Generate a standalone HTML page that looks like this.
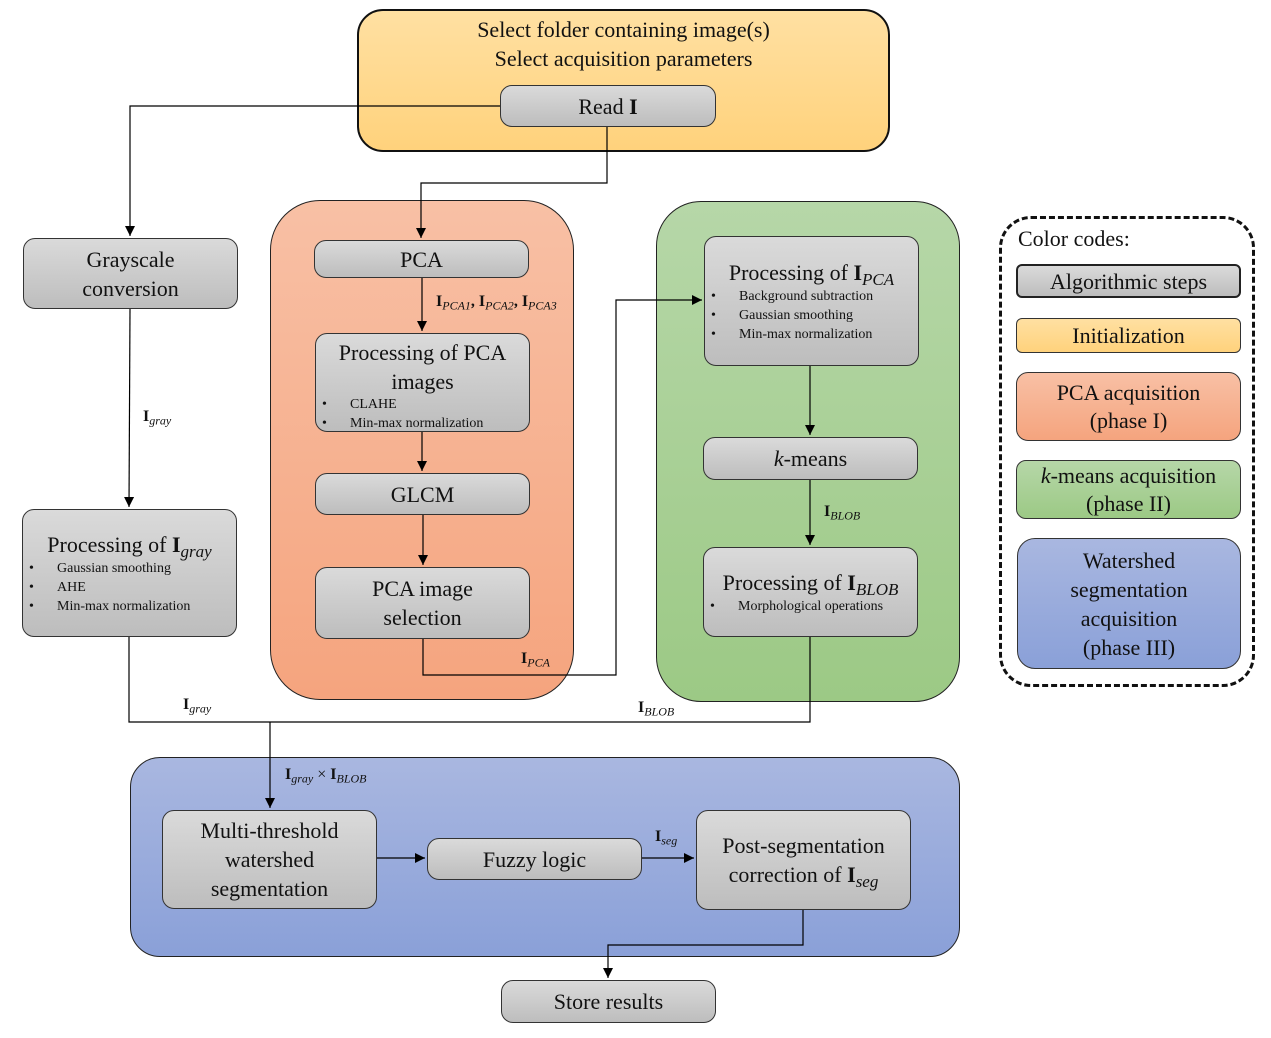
<!DOCTYPE html>
<html><head><meta charset="utf-8"><style>
body{margin:0;width:1271px;height:1038px;background:#fff;position:relative;overflow:hidden;font-family:"Liberation Serif","DejaVu Serif",serif;color:#111}
.b{position:absolute;box-sizing:border-box;border:1px solid #333;border-radius:12px;background:linear-gradient(#dadada,#bdbdbd);text-align:center;font-size:22px;line-height:29px;display:flex;flex-direction:column;justify-content:center}
.b sub,.l sub{font-style:italic;font-weight:normal;vertical-align:-0.3em;line-height:0}
.b sub{font-size:17px}
.c{position:absolute;box-sizing:border-box;border:1px solid #222}
ul{margin:0;padding:0;list-style:none;text-align:left;font-size:14px;line-height:19px}
li{position:relative;padding-left:34px}
li:before{content:"•";position:absolute;left:6px}
.l{position:absolute;font-size:16px;font-weight:bold;white-space:nowrap}
.l sub{font-size:12px}
svg{position:absolute;left:0;top:0}
</style></head><body>
<div class="c" style="left:357px;top:9px;width:533px;height:143px;border-radius:26px;border:2px solid #111;background:linear-gradient(#ffe0a2,#ffd27c)"></div>
<div style="position:absolute;left:357px;top:15px;width:533px;text-align:center;font-size:22px;line-height:29px">Select folder containing image(s)<br>Select acquisition parameters</div>
<div class="c" style="left:270px;top:200px;width:304px;height:500px;border-radius:50px;background:linear-gradient(#f8c0a5,#f5a47e)"></div>
<div class="c" style="left:656px;top:201px;width:304px;height:501px;border-radius:45px;background:linear-gradient(#b6d7a8,#9cc985)"></div>
<div class="c" style="left:130px;top:757px;width:830px;height:200px;border-radius:30px;background:linear-gradient(#a9b7e0,#8aa0d8)"></div>
<div style="position:absolute;left:999px;top:216px;width:256px;height:471px;box-sizing:border-box;border:3px dashed #111;border-radius:32px"></div>

<div class="b" style="left:500px;top:85px;width:216px;height:42px"><div>Read <b>I</b></div></div>
<div class="b" style="left:23px;top:238px;width:215px;height:71px"><div>Grayscale<br>conversion</div></div>
<div class="b" style="left:314px;top:240px;width:215px;height:38px"><div>PCA</div></div>
<div class="b" style="left:315px;top:333px;width:215px;height:99px;justify-content:flex-start;padding-top:4px"><div>Processing of PCA<br>images</div><ul style="margin-top:-1px"><li>CLAHE</li><li>Min-max normalization</li></ul></div>
<div class="b" style="left:315px;top:473px;width:215px;height:42px"><div>GLCM</div></div>
<div class="b" style="left:315px;top:567px;width:215px;height:72px"><div>PCA image<br>selection</div></div>
<div class="b" style="left:704px;top:236px;width:215px;height:130px"><div>Processing of <b>I</b><sub>PCA</sub></div><ul><li>Background subtraction</li><li>Gaussian smoothing</li><li>Min-max normalization</li></ul></div>
<div class="b" style="left:703px;top:437px;width:215px;height:43px"><div><i>k</i>-means</div></div>
<div class="b" style="left:703px;top:547px;width:215px;height:90px"><div>Processing of <b>I</b><sub>BLOB</sub></div><ul><li>Morphological operations</li></ul></div>
<div class="b" style="left:22px;top:509px;width:215px;height:128px"><div>Processing of <b>I</b><sub>gray</sub></div><ul><li>Gaussian smoothing</li><li>AHE</li><li>Min-max normalization</li></ul></div>
<div class="b" style="left:162px;top:810px;width:215px;height:99px"><div>Multi-threshold<br>watershed<br>segmentation</div></div>
<div class="b" style="left:427px;top:838px;width:215px;height:42px"><div>Fuzzy logic</div></div>
<div class="b" style="left:696px;top:810px;width:215px;height:100px"><div>Post-segmentation<br>correction of <b>I</b><sub>seg</sub></div></div>
<div class="b" style="left:501px;top:980px;width:215px;height:43px"><div>Store results</div></div>

<div style="position:absolute;left:1018px;top:226px;font-size:22px">Color codes:</div>
<div class="b" style="left:1016px;top:264px;width:225px;height:34px;border:2px solid #222;border-radius:6px"><div>Algorithmic steps</div></div>
<div class="b" style="left:1016px;top:318px;width:225px;height:35px;border-radius:6px;background:linear-gradient(#ffe0a2,#ffd27c)"><div>Initialization</div></div>
<div class="b" style="left:1016px;top:372px;width:225px;height:69px;border-radius:12px;background:linear-gradient(#f8c0a5,#f5a47e);line-height:28px"><div>PCA acquisition<br>(phase I)</div></div>
<div class="b" style="left:1016px;top:460px;width:225px;height:59px;border-radius:10px;background:linear-gradient(#b6d7a8,#9cc985);line-height:28px"><div><i>k</i>-means acquisition<br>(phase II)</div></div>
<div class="b" style="left:1017px;top:538px;width:224px;height:131px;border-radius:18px;background:linear-gradient(#a9b7e0,#8aa0d8)"><div>Watershed<br>segmentation<br>acquisition<br>(phase III)</div></div>

<svg width="1271" height="1038"><defs><marker id="a" markerWidth="12" markerHeight="12" refX="10" refY="5" orient="auto" markerUnits="userSpaceOnUse"><path d="M0,0L10,5L0,10z" fill="#000"/></marker></defs>
<g fill="none" stroke="#000" stroke-width="1.2">
<path d="M500,106H130V236" marker-end="url(#a)"/>
<path d="M607,127V183H421V238" marker-end="url(#a)"/>
<path d="M422,278V331" marker-end="url(#a)"/>
<path d="M422,432V471" marker-end="url(#a)"/>
<path d="M423,515V565" marker-end="url(#a)"/>
<path d="M423,639V675H616V300H702" marker-end="url(#a)"/>
<path d="M810,366V435" marker-end="url(#a)"/>
<path d="M810,480V545" marker-end="url(#a)"/>
<path d="M130,309L129,507" marker-end="url(#a)"/>
<path d="M129,637V722H810V637"/>
<path d="M270,722V808" marker-end="url(#a)"/>
<path d="M377,858H425" marker-end="url(#a)"/>
<path d="M642,858H694" marker-end="url(#a)"/>
<path d="M803,910V945H608V978" marker-end="url(#a)"/>
</g></svg>
<div class="l" style="left:436px;top:293px">I<sub>PCA1</sub>, I<sub>PCA2</sub>, I<sub>PCA3</sub></div>
<div class="l" style="left:521px;top:650px">I<sub>PCA</sub></div>
<div class="l" style="left:824px;top:503px">I<sub>BLOB</sub></div>
<div class="l" style="left:143px;top:408px">I<sub>gray</sub></div>
<div class="l" style="left:183px;top:696px">I<sub>gray</sub></div>
<div class="l" style="left:638px;top:699px">I<sub>BLOB</sub></div>
<div class="l" style="left:285px;top:766px">I<sub>gray</sub> <span style="font-weight:normal">×</span> I<sub>BLOB</sub></div>
<div class="l" style="left:655px;top:828px">I<sub>seg</sub></div>
</body></html>
